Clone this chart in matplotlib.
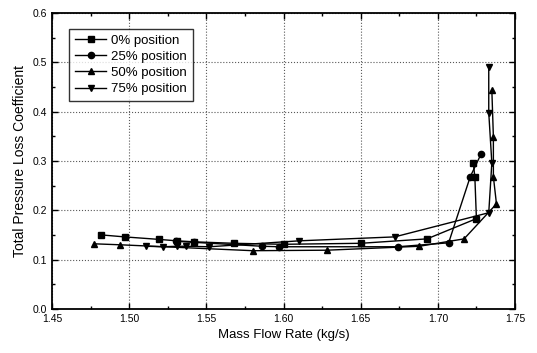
import numpy as np
import matplotlib
matplotlib.use('Agg')
from matplotlib import pyplot as plt
from matplotlib.ticker import MultipleLocator

plt.rcParams['font.family'] = ['Liberation Sans', 'DejaVu Sans']

# 0% position (squares)
x0 = [1.482, 1.497, 1.519, 1.531, 1.542, 1.568, 1.600, 1.650, 1.693, 1.725, 1.724, 1.723]
y0 = [0.150, 0.146, 0.141, 0.138, 0.136, 0.133, 0.131, 0.133, 0.142, 0.183, 0.267, 0.296]
# 25% position (circles)
x25 = [1.530, 1.542, 1.586, 1.597, 1.674, 1.707, 1.721, 1.728]
y25 = [0.137, 0.135, 0.127, 0.126, 0.126, 0.134, 0.268, 0.314]
# 50% position (up triangles)
x50 = [1.477, 1.494, 1.580, 1.628, 1.688, 1.717, 1.738, 1.736, 1.736, 1.735]
y50 = [0.132, 0.130, 0.118, 0.119, 0.127, 0.142, 0.213, 0.268, 0.349, 0.444]
# 75% position (down triangles)
x75 = [1.511, 1.522, 1.531, 1.537, 1.552, 1.610, 1.672, 1.733, 1.735, 1.733, 1.733]
y75 = [0.127, 0.126, 0.127, 0.127, 0.126, 0.138, 0.146, 0.195, 0.296, 0.398, 0.491]

fig = plt.figure(figsize=(5.37, 3.53), dpi=100)
ax = fig.add_axes([0.097, 0.125, 0.862, 0.838])

ax.plot(x0, y0, 'k-', marker='s', ms=4, lw=1, label='0% position')
ax.plot(x25, y25, 'k-', marker='o', ms=4.5, lw=1, label='25% position')
ax.plot(x50, y50, 'k-', marker='^', ms=4.5, lw=1, label='50% position')
ax.plot(x75, y75, 'k-', marker='v', ms=4.5, lw=1, label='75% position')

ax.set_xlim(1.45, 1.75)
ax.set_ylim(0.0, 0.6)
ax.xaxis.set_major_locator(MultipleLocator(0.05))
ax.xaxis.set_minor_locator(MultipleLocator(0.025))
ax.yaxis.set_major_locator(MultipleLocator(0.1))
ax.yaxis.set_minor_locator(MultipleLocator(0.05))
ax.set_xticklabels(['%.2f' % v for v in ax.get_xticks()])
ax.set_yticklabels(['%.1f' % v for v in ax.get_yticks()])
ax.tick_params(which='both', direction='in', top=True, right=True, labelsize=7.5, width=1)
ax.tick_params(which='major', length=4)
ax.tick_params(which='minor', length=2)
for s in ax.spines.values():
    s.set_linewidth(1.3)
ax.grid(True, which='major', linestyle=':', color='0.35', linewidth=0.8)

ax.set_xlabel('Mass Flow Rate (kg/s)', fontsize=9.5)
ax.set_ylabel('Total Pressure Loss Coefficient', fontsize=10)

leg = ax.legend(loc='upper left', bbox_to_anchor=(0.022, 0.97), fontsize=9.5,
                frameon=True, fancybox=False, handlelength=2.4, borderpad=0.45,
                labelspacing=0.3, handletextpad=0.35)
leg.get_frame().set_edgecolor('black')
leg.get_frame().set_linewidth(1)

plt.savefig('out.png', dpi=100)
plt.close()
